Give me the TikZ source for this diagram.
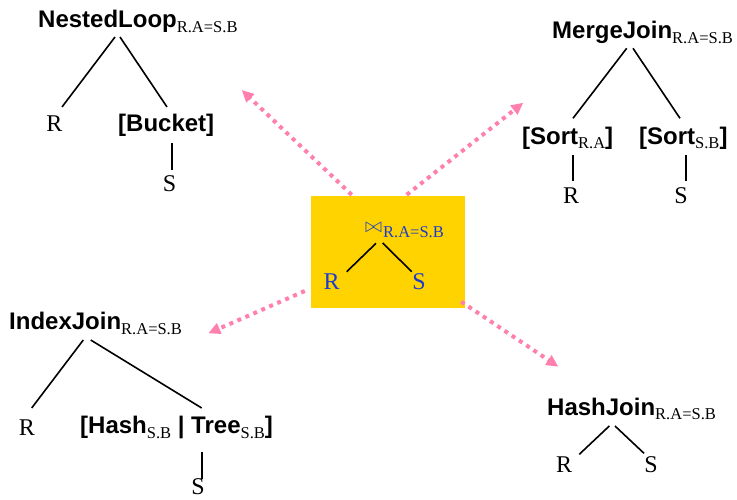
\documentclass[tikz,border=0pt]{standalone}
\usepackage{fontspec}
\setmainfont{Liberation Serif}
\newfontfamily\hv{Liberation Sans}
\usetikzlibrary{calc,arrows.meta}
\definecolor{boxyel}{RGB}{255,211,0}
\definecolor{pinkarr}{RGB}{255,128,175}
\definecolor{jblue}{RGB}{30,60,200}
\newcommand\hdfont{\hv\bfseries\fontsize{24}{28}\selectfont}
\newcommand\subfont{\fontsize{16.5}{19}\selectfont}
\newcommand\relfont{\fontsize{24}{28}\selectfont}
\newcommand\sbs[1]{\raisebox{-4.5pt}{\rmfamily\mdseries\subfont #1}}
\tikzset{
  hd/.style={anchor=base west, inner sep=0pt, font=\hdfont},
  leaf/.style={inner sep=0pt, font=\relfont},
  edge/.style={line width=1.6pt},
  arr/.style={pinkarr, line width=4pt, dash pattern=on 4pt off 4.7pt,
    -{Triangle[length=12pt,width=11pt]}},
}
\begin{document}
\begin{tikzpicture}[x=1pt,y=-1pt]
\fill[white] (0,0) rectangle (737,499);
\useasboundingbox (0,0) rectangle (737,499);

% central box
\node[fill=boxyel, minimum width=154pt, minimum height=112pt, inner sep=0pt] (box) at (388,252) {};
\node[inner sep=0pt, text=jblue, font=\fontsize{22}{24}\selectfont] (jn) at (373.5,228) {$\bowtie$};
\node[anchor=base west, inner sep=0pt, text=jblue, font=\subfont] (jsub) at (383,237.3) {R.A=S.B};
\node[leaf, text=jblue] (cR) at (331.7,282) {R};
\node[leaf, text=jblue] (cS) at (419,282) {S};
\draw[edge] ($(jn.center)+(2.5,15.3)$) -- ($(cR.center)+(15,-10.3)$);
\draw[edge] ($(jn.center)+(9.2,15)$) -- ($(cS.center)+(-7.3,-10.3)$);

% arrows
\coordinate (t1) at (241.7,90);
\coordinate (t2) at (523.3,102.7);
\coordinate (t3) at (208.3,333.3);
\coordinate (t4) at (558.3,366.7);
\draw[arr] ($(box.north)+(-36.3,-1)$) -- (t1);
\draw[arr] ($(box.north)+(18.7,-1)$) -- (t2);
\draw[arr] ($(box.west)+(-6,39)$) -- (t3);
\draw[arr] ($(box.south east)+(-4,-6.5)$) -- (t4);

% NestedLoop tree
\node[hd] (nl) at (38,27.5) {NestedLoop\sbs{R.A=S.B}};
\node[leaf] (nlR) at (54.5,123.5) {R};
\node[hd] (nlB) at (118,131.5) {[Bucket]};
\node[leaf] (nlS) at (169.5,183.5) {S};
\draw[edge] ($(nl.base west)+(77,9.5)$) -- ($(nlR.center)+(7.5,-16.5)$);
\draw[edge] ($(nl.base west)+(82,9.5)$) -- ($(nlB.base west)+(49,-24.5)$);
\draw[edge] ($(nlB.base west)+(54,11.5)$) -- ($(nlS.center)+(2.5,-13.5)$);

% MergeJoin tree
\node[hd] (mj) at (552,38.5) {MergeJoin\sbs{R.A=S.B}};
\node[hd] (mjL) at (522,144) {[Sort\sbs{R.A}]};
\node[hd] (mjRt) at (639,144) {[Sort\sbs{S.B}]};
\node[leaf] (mjR) at (571,195.5) {R};
\node[leaf] (mjS) at (681,195.5) {S};
\draw[edge] ($(mj.base west)+(74.7,9.8)$) -- ($(mjL.base west)+(51,-25.7)$);
\draw[edge] ($(mj.base west)+(81,9.8)$) -- ($(mjRt.base west)+(41,-25.7)$);
\draw[edge] ($(mjL.base west)+(51,11)$) -- ($(mjR.center)+(2,-14.5)$);
\draw[edge] ($(mjRt.base west)+(47,11)$) -- ($(mjS.center)+(5,-14.5)$);

% IndexJoin tree
\node[hd] (ij) at (9,329.5) {IndexJoin\sbs{R.A=S.B}};
\node[leaf] (ijR) at (27,427.5) {R};
\node[hd] (ijH) at (80,433.5) {[Hash\sbs{S.B} | Tree\sbs{S.B}]};
\node[leaf] (ijS) at (198,487) {S};
\draw[edge] ($(ij.base west)+(74.3,10.5)$) -- ($(ijR.center)+(4.7,-19.5)$);
\draw[edge] ($(ij.base west)+(81.7,10.5)$) -- ($(ijH.base west)+(121.7,-25.5)$);
\draw[edge] ($(ijH.base west)+(121.7,18.2)$) -- ($(ijS.center)+(3.7,-8)$);

% HashJoin tree
\node[hd] (hj) at (547,415) {HashJoin\sbs{R.A=S.B}};
\node[leaf] (hjR) at (564,465) {R};
\node[leaf] (hjS) at (651,465) {S};
\draw[edge] ($(hj.base west)+(62.3,11)$) -- ($(hjR.center)+(15.3,-10.7)$);
\draw[edge] ($(hj.base west)+(68,11)$) -- ($(hjS.center)+(-7,-11.7)$);
\end{tikzpicture}
\end{document}
